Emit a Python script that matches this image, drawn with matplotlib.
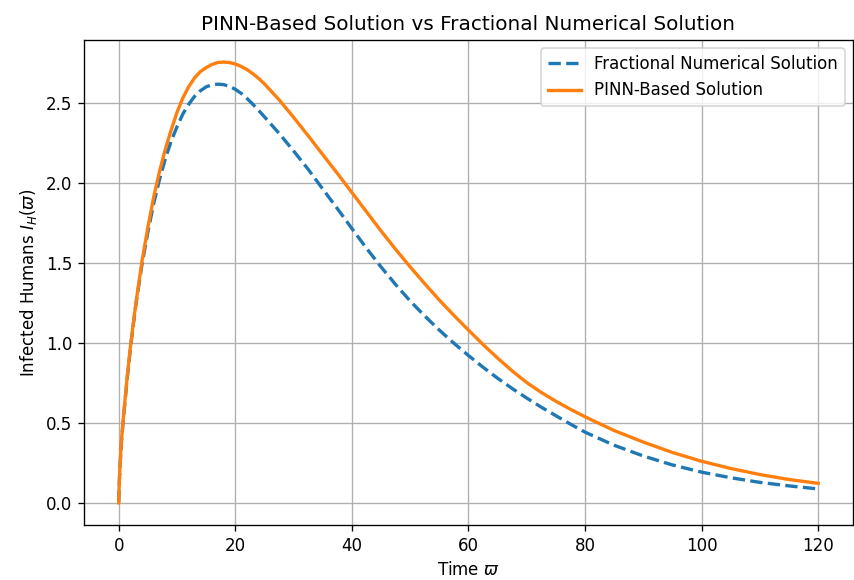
import matplotlib
matplotlib.use("Agg")
import matplotlib.pyplot as plt

# time samples
time = [0, 0.1, 0.25, 0.5, 0.75, 1, 1.5, 2, 2.5, 3, 4, 5, 6, 7, 8, 9, 10,
        11, 12, 13, 14, 15, 16, 17, 18, 19, 20, 21, 22, 23, 24, 25, 27.5,
        30, 32.5, 35, 37.5, 40, 42.5, 45, 47.5, 50, 52.5, 55, 57.5, 60,
        62.5, 65, 67.5, 70, 72.5, 75, 77.5, 80, 85, 90, 95, 100, 105, 110,
        115, 120]

fractional = [0, 0.12, 0.24, 0.39, 0.50, 0.60, 0.79, 0.96, 1.11, 1.25, 1.49,
              1.69, 1.87, 2.02, 2.15, 2.26, 2.35, 2.43, 2.49, 2.54, 2.575,
              2.60, 2.613, 2.617, 2.614, 2.603, 2.585, 2.56, 2.528, 2.492,
              2.453, 2.413, 2.31, 2.20, 2.085, 1.962, 1.84, 1.715, 1.592,
              1.475, 1.365, 1.262, 1.168, 1.08, 0.998, 0.921, 0.848, 0.779,
              0.715, 0.655, 0.598, 0.545, 0.492, 0.442, 0.36, 0.293, 0.237,
              0.192, 0.157, 0.128, 0.106, 0.087]

pinn = [0, 0.12, 0.25, 0.40, 0.51, 0.61, 0.80, 0.97, 1.12, 1.26, 1.51, 1.72,
        1.91, 2.07, 2.21, 2.33, 2.44, 2.53, 2.60, 2.655, 2.695, 2.72, 2.74,
        2.752, 2.755, 2.752, 2.743, 2.728, 2.708, 2.683, 2.653, 2.619, 2.52,
        2.41, 2.295, 2.177, 2.06, 1.94, 1.82, 1.70, 1.585, 1.475, 1.37,
        1.268, 1.172, 1.08, 0.99, 0.905, 0.825, 0.752, 0.69, 0.635, 0.585,
        0.538, 0.452, 0.38, 0.315, 0.26, 0.215, 0.177, 0.146, 0.122]

fig, ax = plt.subplots(figsize=(854 / 120, 580 / 120), dpi=120)
fig.subplots_adjust(left=0.098, right=0.999, top=0.931, bottom=0.095)

ax.plot(time, fractional, "--", color="tab:blue", linewidth=2,
        label="Fractional Numerical Solution")
ax.plot(time, pinn, "-", color="tab:orange", linewidth=2,
        label="PINN-Based Solution")

ax.set_title("PINN-Based Solution vs Fractional Numerical Solution")
ax.set_xlabel(r"Time $\varpi$")
ax.set_ylabel(r"Infected Humans $I_H(\varpi)$")
ax.grid(True)
ax.legend(loc="upper right")

fig.savefig("out.png", dpi=120)
